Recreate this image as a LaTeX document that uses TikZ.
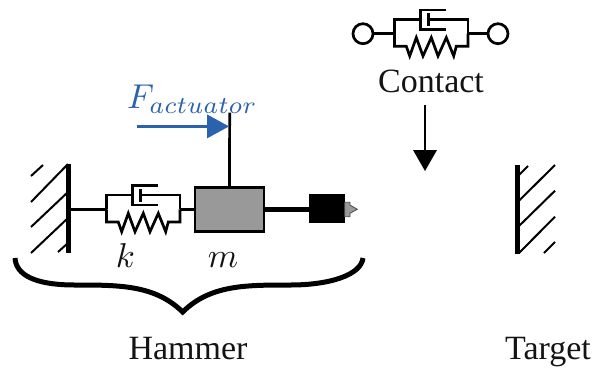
\documentclass[tikz,border=0pt]{standalone}
\usepackage{fontspec}
\setmainfont{Liberation Serif}
\definecolor{actblue}{HTML}{2A62AE}
\definecolor{massgray}{HTML}{999999}
\newcommand{\bigmath}[1]{\scalebox{3.45}{\normalsize$#1$}}
\tikzset{
  wallline/.style={line width=5pt},
  hatch/.style={line width=2pt},
  thinline/.style={line width=2.7pt,line join=miter},
  label/.style={font=\fontsize{34}{40}\selectfont,inner sep=0pt,text=black!92},
  pics/kelvin/.style={code={
    \coordinate (-left) at (106.5,195+14.4);
    \coordinate (-right) at (180,195+14.4);
    \draw[thinline] (-left) -- (106.5,195) -- (132.7,195);
    \draw[thinline] (158,185.7) -- (132.7,185.7) -- (132.7,205) -- (158,205);
    \draw[thinline] (140.7,189) -- (140.7,201.7);
    \draw[thinline] (140.7,195) -- (180,195) -- (-right);
    \draw[thinline] (-left) -- (106.5,222) -- (118.3,222) -- (121.7,231.7) -- (128.3,213.3) -- (135,231.7) -- (143.3,213.3) -- (150,231.7) -- (158.3,213.3) -- (165.7,231.7) -- (168.3,222) -- (180,222) -- (-right);
  }}
}
\begin{document}
\begin{tikzpicture}[x=1pt,y=-1pt]
\useasboundingbox (0,0) rectangle (607,368);
% left wall
\draw[wallline] (68.5,164) coordinate (lw1) -- (68.5,253) coordinate (lw2);
\coordinate (lwmid) at (68.5,209.4);
\draw[hatch] (68,164) -- (31,202) (68,192) -- (31,227) (68,218) -- (31,253) (43,165) -- (31,176) (68,243) -- (58,252);
% hammer spring-damper
\pic (hk) at (0,0) {kelvin};
\draw[thinline] (lwmid) -- (hk-left);
% mass
\node[draw=black,fill=massgray,line width=2.8pt,minimum width=69pt,minimum height=43.5pt,inner sep=0pt,anchor=center] (mass) at (229.4,209.4) {};
\draw[thinline] (hk-right) -- (mass.west);
\coordinate (forcetop) at (229.7,112.7);
\draw[thinline] (mass.north) -- (forcetop);
% head
\node[fill=black,minimum width=35.7pt,minimum height=29pt,inner sep=0pt] (head) at (326.8,208.9) {};
\draw[line width=5.5pt] (mass.east) -- (head.west |- mass.east);
\draw[fill=massgray,draw=black!70,line width=0.8pt] (344.7,202.3) -- (350,202.3) -- (350,205) -- (357.3,209.3) -- (350,213.3) -- (350,216.7) -- (344.7,216.7) -- cycle;
% force
\coordinate (forcestart) at (136.7,126.4);
\coordinate (forcetip) at (229,126.4);
\draw[actblue,line width=3pt] (forcestart) -- (208,126.4);
\fill[actblue] (207,114.4) -- (forcetip) -- (207,138.4) -- cycle;
\node[label,text=actblue,anchor=base west] (flabel) at (127,108) {\bigmath{F_{actuator}}};
\node[label,anchor=base] (klabel) at (125.5,267) {\bigmath{k}};
\node[label,anchor=base] (mlabel) at (223,267) {\bigmath{m}};
% brace
\draw[line width=5pt,miter limit=10] (15,258) .. controls (16,275) and (35,285) .. (75,285) .. controls (120,285) and (155,285) .. (182.7,312) .. controls (210,285) and (245,285) .. (290,285) .. controls (330,285) and (361,275) .. (363,258);
\node[label,anchor=base] (hammer) at (188,359) {Hammer};
% contact
\pic (ck) at (288,-175.7) {kelvin};
\node[draw,circle,line width=2.7pt,minimum size=20pt,inner sep=0pt] (c1) at (363,33.7) {};
\node[draw,circle,line width=2.7pt,minimum size=20pt,inner sep=0pt] (c2) at (498,33.7) {};
\draw[thinline] (c1) -- (ck-left);
\draw[thinline] (ck-right) -- (c2);
\node[label,anchor=base] (contact) at (431,92) {Contact};
\coordinate (a1) at (425,105);
\coordinate (a2) at (425,171);
\draw[line width=2.8pt] (a1) -- (425,152);
\fill (413,150) -- (a2) -- (437,150) -- cycle;
% target wall
\draw[wallline] (517.3,165) -- (517.3,254);
\draw[hatch] (519,175) -- (528,166) (519,200.7) -- (555,165) (519,226) -- (555,190.7) (519,253) -- (555,216.7) (544,253) -- (555,242);
\node[label,anchor=base] (target) at (548,359) {Target};
\end{tikzpicture}
\end{document}
